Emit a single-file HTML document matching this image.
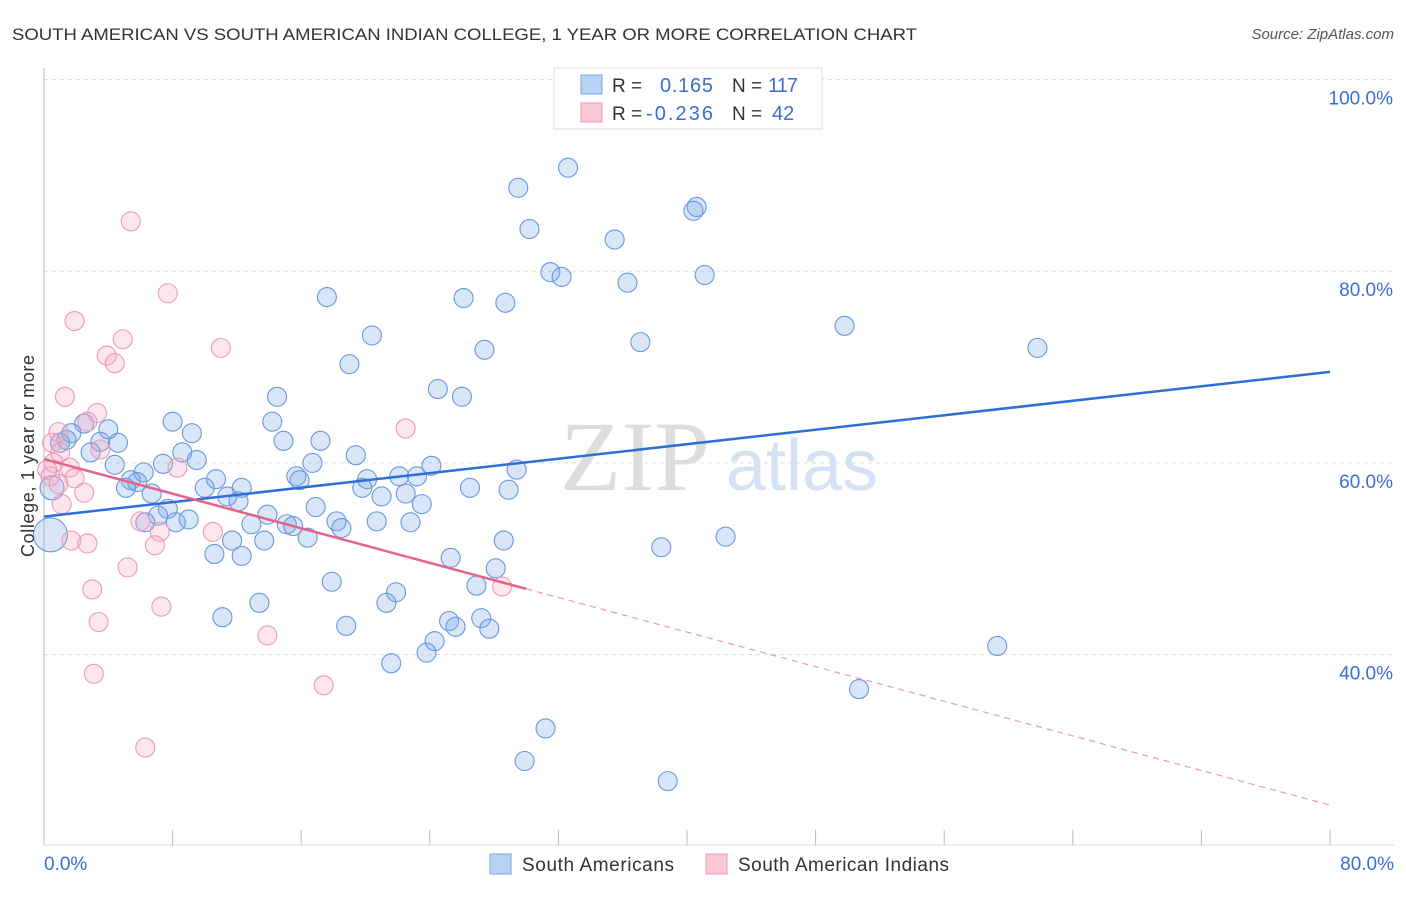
<!DOCTYPE html>
<html><head><meta charset="utf-8"><style>
body{margin:0;background:#fff;font-family:"Liberation Sans",sans-serif;}
svg text{font-family:"Liberation Sans",sans-serif;}
</style></head><body>
<svg width="1406" height="892" xmlns="http://www.w3.org/2000/svg">
<text x="12" y="40" font-size="17" fill="#333" textLength="905" lengthAdjust="spacingAndGlyphs">SOUTH AMERICAN VS SOUTH AMERICAN INDIAN COLLEGE, 1 YEAR OR MORE CORRELATION CHART</text>
<text x="1394" y="39" font-size="15" fill="#555" text-anchor="end" font-style="italic">Source: ZipAtlas.com</text>
<g>
<text x="635" y="490" font-size="100" fill="#ddd" font-family="Liberation Serif" text-anchor="middle" style="font-family:'Liberation Serif',serif">ZIP</text>
<text x="802" y="490" font-size="72" fill="#d5e2f3" text-anchor="middle">atlas</text>
</g>
<g id="grid"></g>
<g id="axes"></g>
<g id="pts"></g>
<g id="trend"></g>
<text transform="translate(34,456) rotate(-90)" font-size="18" fill="#333" text-anchor="middle" textLength="202">College, 1 year or more</text>
<g>
<rect x="554" y="68" width="268" height="61" fill="#fff" stroke="#ddd"/>
<rect x="581" y="75" width="21" height="19" fill="#b8d2f4" stroke="#7aa6e4"/>
<rect x="581" y="103" width="21" height="19" fill="#fbc8d6" stroke="#f09ab3"/>
<text x="612" y="92" font-size="19" fill="#333">R =</text>
<text x="660" y="92" font-size="20" fill="#3a6fd0" textLength="53">0.165</text>
<text x="732" y="92" font-size="19" fill="#333">N =</text>
<text x="768" y="92" font-size="20" fill="#3a6fd0" textLength="30">117</text>
<text x="612" y="120" font-size="19" fill="#333">R =</text>
<text x="646" y="120" font-size="20" fill="#3a6fd0" textLength="67">-0.236</text>
<text x="732" y="120" font-size="19" fill="#333">N =</text>
<text x="772" y="120" font-size="20" fill="#3a6fd0">42</text>
</g>
<g>
<rect x="490" y="854" width="21" height="20" fill="#b8d2f4" stroke="#7aa6e4"/>
<text x="522" y="871" font-size="19" fill="#333" textLength="152">South Americans</text>
<rect x="706" y="854" width="21" height="20" fill="#fbc8d6" stroke="#f09ab3"/>
<text x="738" y="871" font-size="19" fill="#333" textLength="211">South American Indians</text>
</g>
</svg>
<script>
const blueX=[32.6,29.5,30.2,35.5,40.6,40.4,31.5,32.2,41.1,36.3,26.1,28.7,17.6,20.4,27.4,37.1,49.8,61.8,19.0,24.5,26.0,14.5,14.2,8.0,9.2,8.6,9.5,4.0,2.5,3.5,4.6,1.4,1.7,1.0,2.9,4.4,6.2,7.4,14.9,17.2,19.4,16.7,15.7,15.9,10.7,10.0,12.3,11.4,12.1,5.4,5.8,5.1,6.7,7.7,7.1,6.3,8.2,9.0,13.9,12.9,15.1,15.5,16.9,18.2,18.5,16.4,13.7,11.7,10.6,12.3,19.8,20.1,21.0,22.1,23.2,22.5,23.5,20.7,22.8,24.1,26.5,28.9,29.4,25.3,28.6,28.1,38.4,42.4,17.9,13.4,11.1,21.3,21.9,18.8,25.2,25.6,27.2,27.7,24.3,23.8,21.6,26.9,59.3,50.7,31.2,29.9,38.8,0.4,0.5];
const blueY=[90.8,88.7,84.4,83.3,86.7,86.3,79.9,79.4,79.6,78.8,77.2,76.7,77.3,73.3,71.8,72.6,74.3,72.0,70.3,67.7,66.9,66.9,64.3,64.3,63.1,61.1,60.3,63.5,64.1,62.2,62.1,62.4,63.1,62.1,61.1,59.8,59.0,59.9,62.3,62.3,60.8,60.0,58.6,58.2,58.3,57.4,57.4,56.5,56.0,58.2,58.0,57.4,56.8,55.2,54.5,53.8,53.8,54.1,54.6,53.6,53.6,53.4,55.4,53.9,53.2,52.2,51.9,51.9,50.5,50.3,57.4,58.3,56.5,58.6,58.6,56.8,55.7,53.9,53.8,59.7,57.4,57.2,59.3,50.1,51.9,49.0,51.2,52.3,47.6,45.4,43.9,45.4,46.5,43.0,43.5,42.9,43.8,42.7,41.4,40.2,39.1,47.2,40.9,36.4,32.3,28.9,26.8,52.5,57.4];
const blueBig=[0,0,0,0,0,0,0,0,0,0,0,0,0,0,0,0,0,0,0,0,0,0,0,0,0,0,0,0,0,0,0,0,0,0,0,0,0,0,0,0,0,0,0,0,0,0,0,0,0,0,0,0,0,0,0,0,0,0,0,0,0,0,0,0,0,0,0,0,0,0,0,0,0,0,0,0,0,0,0,0,0,0,0,0,0,0,0,0,0,0,0,0,0,0,0,0,0,0,0,0,0,0,0,0,0,0,0,2,1];
const pinkX=[5.4,7.7,1.9,3.9,4.4,4.9,11.0,1.3,3.3,2.7,0.9,0.5,1.0,0.6,1.6,0.4,1.9,0.9,2.5,1.1,8.3,22.5,6.0,7.2,6.9,1.7,2.7,5.2,10.5,3.0,7.3,3.4,13.9,3.1,17.4,6.3,28.5,0.2,3.5];
const pinkY=[85.2,77.7,74.8,71.2,70.4,72.9,72.0,66.9,65.2,64.3,63.2,62.1,61.1,60.0,59.5,58.6,58.4,57.8,56.9,55.7,59.5,63.6,53.9,52.8,51.4,51.9,51.6,49.1,52.8,46.8,45.0,43.4,42.0,38.0,36.8,30.3,47.1,59.3,61.4];
const yTicks=[40,60,80,100];
const yTickLabels=["40.0%","60.0%","80.0%","100.0%"];
const xTickLabels=["0.0%","80.0%"];
const blueTrend=[54.4,69.5];
const pinkTrend=[60.4,24.3];
const pinkSolidEnd=30;
const NS="http://www.w3.org/2000/svg";
const X=v=>44+v*16.075, Y=v=>79.5+(100-v)*9.585;
function mk(p,t,a){const e=document.createElementNS(NS,t);for(const k in a)e.setAttribute(k,a[k]);p.appendChild(e);return e;}
const grid=document.getElementById('grid'),axes=document.getElementById('axes');
yTicks.forEach((t,i)=>{
 const l=mk(grid,'line',{x1:44,x2:1394,y1:Y(t),y2:Y(t),stroke:'#ddd','stroke-dasharray':'4,4'});
 
 
 const tx=mk(axes,'text',{x:1393,y:Y(t)+25,'font-size':19,fill:'#3a6fd0','text-anchor':'end'});
 tx.textContent=yTickLabels[i];
 
 
});
const la=mk(axes,'line',{x1:44,x2:44,y1:68,y2:845,stroke:'#bbb'});


const ba=mk(axes,'line',{x1:44,x2:1394,y1:845,y2:845,stroke:'#ddd'});


for(let i=1;i<=10;i++){const t=mk(axes,'line',{x1:X(i*8),x2:X(i*8),y1:830,y2:845,stroke:'#bbb'});
 
 }
[[0,'start',44],[80,'end',1394]].forEach((d,i)=>{const t=mk(axes,'text',{x:d[2],y:870,'font-size':19,fill:'#3a6fd0','text-anchor':d[1]});t.textContent=xTickLabels[i];
 
 });
const pts=document.getElementById('pts');
blueX.forEach((x,i)=>{const c=mk(pts,'circle',{cx:X(x),cy:Y(blueY[i]),r:blueBig[i]==2?17:(blueBig[i]==1?12:9.5),fill:'rgba(120,165,230,0.28)',stroke:'#6898dc','stroke-width':1.1});
 
 });
pinkX.forEach((x,i)=>{const c=mk(pts,'circle',{cx:X(x),cy:Y(pinkY[i]),r:9.5,fill:'rgba(245,165,195,0.28)',stroke:'#eb9bb4','stroke-width':1.1});
 
 });
const tr=document.getElementById('trend');
const b=mk(tr,'line',{x1:X(0),y1:Y(blueTrend[0]),x2:X(80),y2:Y(blueTrend[1]),stroke:'#2d6fd6','stroke-width':2.5});


const pm=(pinkTrend[1]-pinkTrend[0])/80, pe=pinkTrend[0]+pm*pinkSolidEnd;
const p1=mk(tr,'line',{x1:X(0),y1:Y(pinkTrend[0]),x2:X(pinkSolidEnd),y2:Y(pe),stroke:'#e5628c','stroke-width':2.5});


const p2=mk(tr,'line',{x1:X(pinkSolidEnd),y1:Y(pe),x2:X(80),y2:Y(pinkTrend[1]),stroke:'#e89ab2','stroke-width':1.2,'stroke-dasharray':'6,5'});


</script>
</body></html>
